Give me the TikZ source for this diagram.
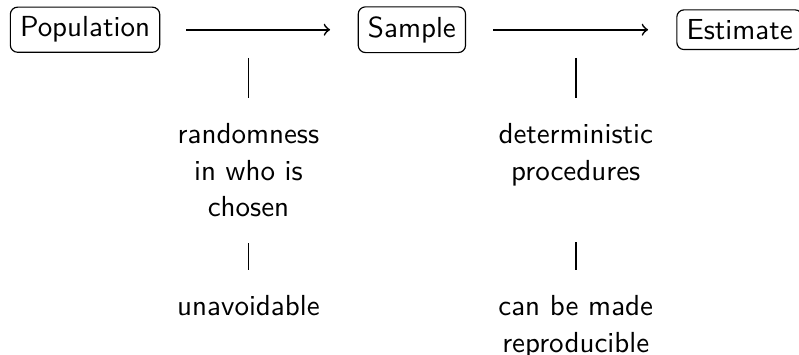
\documentclass[tikz,border=0pt]{standalone}
\usepackage{tikz}
\usetikzlibrary{arrows,positioning,calc}

\begin{document}
\begin{tikzpicture}[every node/.style={font=\sffamily},>=to,
  box/.style={draw,rounded corners=2.5pt},
  link/.style={line width=0.6pt},
  note/.style={align=center,anchor=north,font=\sffamily\fontsize{10}{12.6}\selectfont}]
\useasboundingbox (0,0) rectangle (9.68,-4.30);
\node[box] (pop) at (1.03,-0.36) {Population};
\node[box] (samp) at (4.99,-0.36) {Sample};
\node[box] (est) at (8.96,-0.36) {Estimate};
\coordinate (m1) at ($(pop)!0.5!(samp)$);
\coordinate (m2) at ($(samp)!0.5!(est)$);
\node[note] (rand) at (m1 |- 0,-1.37) {randomness\\in who is\\chosen};
\node[note] (det) at (m2 |- 0,-1.37) {deterministic\\procedures};
\node[note] (unav) at (m1 |- 0,-3.46) {unavoidable};
\node[note] (repr) at (m2 |- 0,-3.46) {can be made\\reproducible};
\path[->,link] (pop) edge[shorten <=9pt,shorten >=9.5pt] (samp);
\path[->,link] (samp) edge[shorten <=9.4pt,shorten >=9.7pt] (est);
\path[link] (m1) edge[shorten <=9.7pt,shorten >=5.2pt] (rand);
\path[link] (m2) edge[shorten <=9.7pt,shorten >=5.2pt] (det);
\path[link] (rand) edge[shorten <=5.6pt,shorten >=5.5pt] (unav);
\path[link] (det) edge[shorten <=16pt,shorten >=5.5pt] (repr);
\end{tikzpicture}
\end{document}
